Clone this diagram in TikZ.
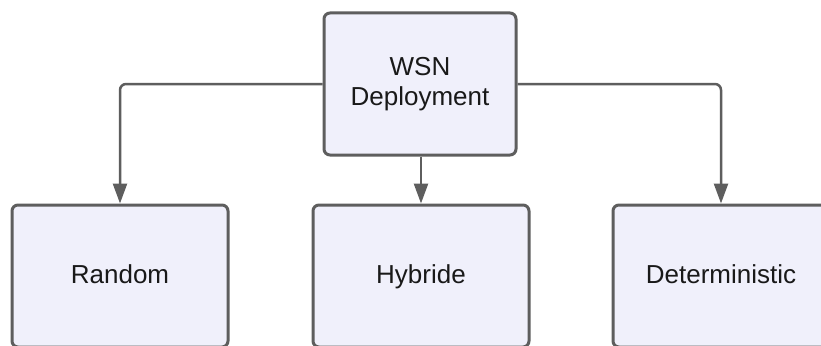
\documentclass[tikz,border=0pt]{standalone}
\usepackage{fontspec}
\setmainfont{Liberation Sans}
\usetikzlibrary{arrows.meta}
\definecolor{edgegrey}{HTML}{5E5E5E}
\definecolor{boxfill}{HTML}{F0F0FB}
\begin{document}
\begin{tikzpicture}[x=1pt,y=-1pt,
  box/.style={draw=edgegrey, fill=boxfill, line width=3pt, rounded corners=6pt,
    align=center, inner sep=0pt, font=\fontsize{26}{30}\selectfont, text=black!90},
  topbox/.style={box, minimum width=192pt, minimum height=142pt},
  leafbox/.style={box, minimum width=216pt, minimum height=142pt,
    text height=18pt, text depth=4pt},
  link/.style={draw=edgegrey, line width=2.5pt, rounded corners=6pt,
    -{Triangle[length=20pt,width=14pt]}}]
  \useasboundingbox (0,0) rectangle (821,345);
  \clip (0,0) rectangle (821,345);
  \fill[white] (0,0) rectangle (821,345);

  % root and leaves
  \node[topbox]  (root) at (420,84)  {WSN\\Deployment};
  \node[leafbox] (rand) at (120,276) {Random};
  \node[leafbox] (hyb)  at (421,276) {Hybride};
  \node[leafbox] (det)  at (721,276) {Deterministic};

  % connectors
  \draw[link] (root.west) -| (rand.north);
  \draw[link] (root.south -| hyb.north) -- (hyb.north);
  \draw[link] (root.east) -| (det.north);
\end{tikzpicture}
\end{document}
